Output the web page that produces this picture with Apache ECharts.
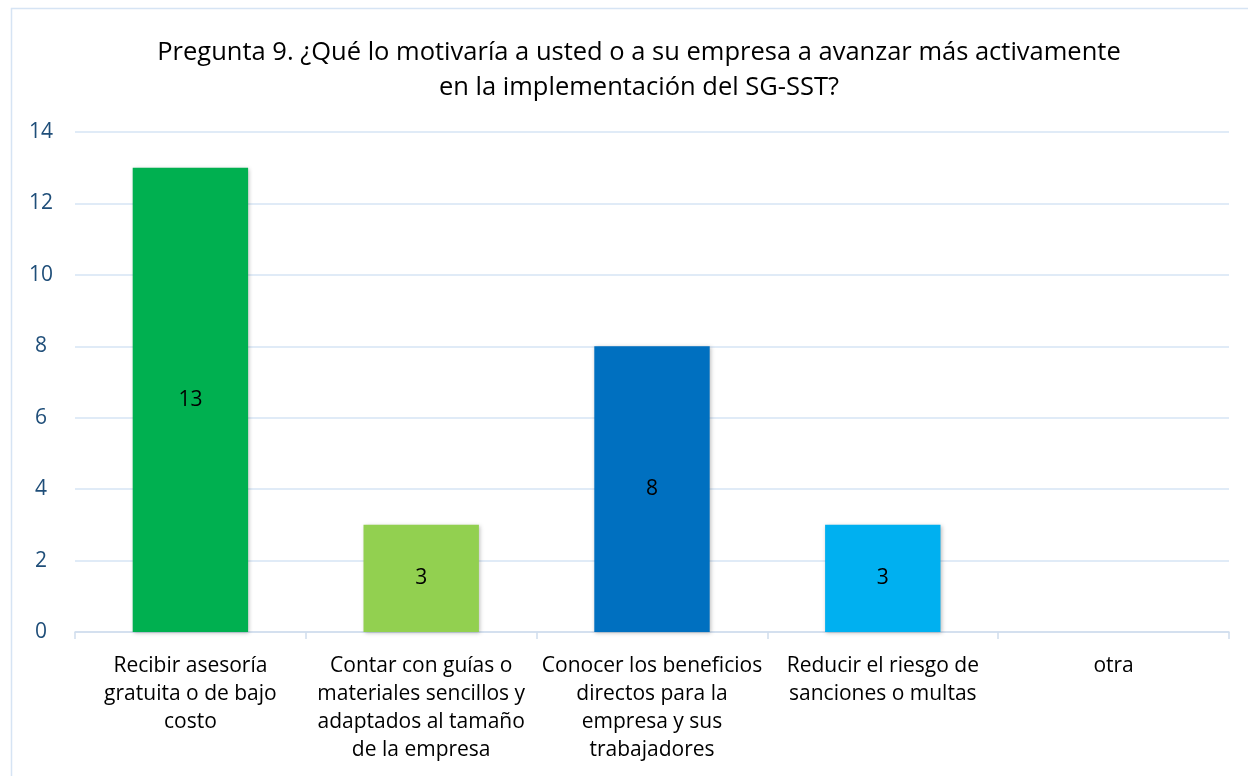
<!DOCTYPE html>
<html><head><meta charset="utf-8">
<script src="https://cdn.jsdelivr.net/npm/echarts@6/dist/echarts.min.js"></script>
<style>html,body{margin:0;padding:0;background:#fff}#c{width:1248px;height:776px}</style>
</head><body><div id="c"></div>
<script>
const categories = [
  "Recibir asesoría\ngratuita o de bajo\ncosto",
  "Contar con guías o\nmateriales sencillos y\nadaptados al tamaño\nde la empresa",
  "Conocer los beneficios\ndirectos para la\nempresa y sus\ntrabajadores",
  "Reducir el riesgo de\nsanciones o multas",
  "otra"
];
const values = [13, 3, 8, 3, 0];
const colors = ["#00B050", "#92D050", "#0070C0", "#00B0F0", "#A5A5A5"];
const yTicks = { min: 0, max: 14, interval: 2 };
const titleText = "Pregunta 9. ¿Qué lo motivaría a usted o a su empresa a avanzar más activamente\nen la implementación del SG-SST?";

const chart = echarts.init(document.getElementById('c'));
const font = "'Open Sans', Lato, sans-serif";
chart.setOption({
  animation: false,
  textStyle: { fontFamily: font },
  graphic: [{
    type: 'rect', shape: { x: 11.5, y: 8.5, width: 1250, height: 780 },
    style: { fill: 'none', stroke: '#D6E4F4', lineWidth: 1.5 }, silent: true
  }],
  title: {
    text: titleText, left: 634, textAlign: 'center', top: 30,
    textStyle: { fontFamily: font, fontSize: 25.5, fontWeight: 'normal', color: '#000', lineHeight: 35 }
  },
  grid: { left: 75, right: 19, top: 132, bottom: 144, containLabel: false },
  xAxis: {
    type: 'category', data: categories,
    axisLine: { lineStyle: { color: '#D0DDED', width: 1.5 } },
    axisTick: { show: true, length: 7, lineStyle: { color: '#D0DDED', width: 1.5 } },
    axisLabel: { color: '#000', fontSize: 21, lineHeight: 28, margin: 20, interval: 0, fontFamily: font }
  },
  yAxis: {
    type: 'value', min: yTicks.min, max: yTicks.max, interval: yTicks.interval,
    axisLine: { show: false }, axisTick: { show: false },
    axisLabel: { color: '#1F4E79', fontSize: 21, margin: 34, align: 'center', fontFamily: font },
    splitLine: { lineStyle: { color: '#D6E4F4', width: 1.5 } }
  },
  series: [{
    type: 'bar', barWidth: '50%',
    data: values.map((v, i) => ({ value: v, itemStyle: { color: colors[i] } })),
    itemStyle: { shadowColor: 'rgba(0,0,0,0.25)', shadowBlur: 4, shadowOffsetX: 1, shadowOffsetY: 1 },
    label: {
      show: true, position: 'inside', color: '#000', fontSize: 21, fontFamily: font,
      formatter: p => p.value ? String(p.value) : ''
    }
  }]
});
</script></body></html>
